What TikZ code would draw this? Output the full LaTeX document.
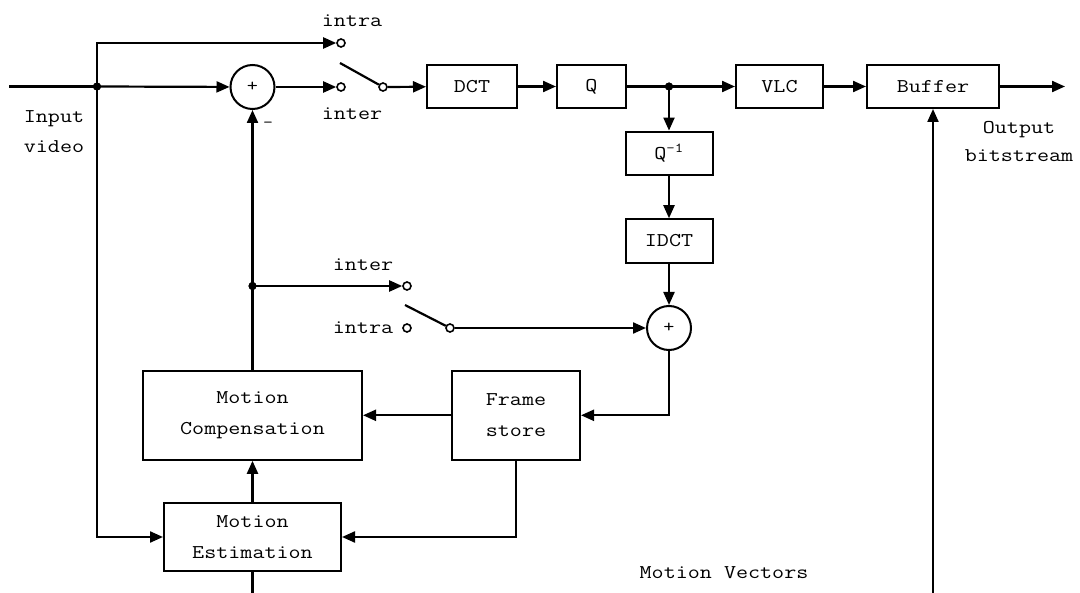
\documentclass[tikz,border=0pt]{standalone}
\usepackage{fontspec}
\setmainfont{Latin Modern Mono}[FakeStretch=1.2]
\usetikzlibrary{arrows.meta}
\tikzset{
  every node/.style={font=\fontsize{19.5bp}{31bp}\selectfont},
  blk/.style={draw, line width=2bp, inner sep=0pt, align=center},
  sumnode/.style={circle, draw, line width=2bp, minimum size=44bp, inner sep=0pt, font=\fontsize{18bp}{18bp}\selectfont},
  term/.style={circle, draw, fill=white, line width=1.6bp, inner sep=0pt, minimum size=8bp},
  dot/.style={circle, fill, inner sep=0pt, minimum size=8bp},
  lbl/.style={anchor=base, inner sep=0pt},
  conn/.style={line width=2.2bp},
  arr/.style={line width=2.2bp, -{Triangle[length=13bp,width=11bp]}}
}
\begin{document}
\begin{tikzpicture}[x=1bp,y=-1bp]
\useasboundingbox (0,0) rectangle (1080,593);
% nodes
\coordinate (in) at (9,86.5);
\node[dot] (j1) at (97,86.5) {};
\coordinate (up) at (97,43);
\node[sumnode] (s1) at (252.5,87) {+};
\node[term] (tIntra) at (341,43) {};
\node[term] (tInter) at (341,87) {};
\coordinate (armA) at (340,63);
\node[term] (tOut) at (383,87) {};
\node[blk, minimum width=90bp, minimum height=43bp] (dct) at (472,86.5) {DCT};
\node[blk, minimum width=69bp, minimum height=43bp] (q) at (591.5,86.5) {Q};
\node[dot] (j2) at (669,86.5) {};
\node[blk, minimum width=87bp, minimum height=43bp] (vlc) at (779.5,86.5) {VLC};
\node[blk, minimum width=132bp, minimum height=43bp] (buf) at (933,86.5) {Buffer};
\coordinate (out) at (1065,86.5);
\node[blk, minimum width=87bp, minimum height=43.5bp] (qi) at (669,153.3) {Q\textsuperscript{-1}};
\node[blk, minimum width=87bp, minimum height=43.5bp] (idct) at (669,241) {IDCT};
\node[sumnode] (s2) at (669,328) {+};
\node[blk, minimum width=128bp, minimum height=89bp] (fs) at (516,415.3) {Frame\\store};
\node[blk, minimum width=219bp, minimum height=89bp] (mc) at (252.5,415.3) {Motion\\Compensation};
\node[blk, minimum width=177bp, minimum height=67.5bp] (me) at (252.5,537) {Motion\\Estimation};
\node[dot] (j3) at (252.5,286) {};
\node[term] (t2inter) at (407,286) {};
\node[term] (t2intra) at (407,328) {};
\coordinate (arm2A) at (405,305);
\node[term] (t2out) at (450,328) {};
\coordinate (meBot) at (252.5,593);
\coordinate (mvB) at (933,593);
% labels
\node[lbl] (lIntra) at (352,27) {intra};
\node[lbl] (lInter) at (352,120) {inter};
\node[lbl, font=\fontsize{16bp}{16bp}\selectfont] (lMinus) at (268,128) {-};
\node[lbl] (lIn1) at (54,123) {Input};
\node[lbl] (lIn2) at (54,153) {video};
\node[lbl] (lOut1) at (1019,134) {Output};
\node[lbl] (lOut2) at (1019,162) {bitstream};
\node[lbl] (lInter2) at (363,271) {inter};
\node[lbl] (lIntra2) at (363,333) {intra};
\node[lbl] (lMV) at (724,578) {Motion Vectors};
% connectors
\draw[conn] (in) -- (j1.center);
\draw[arr] (j1.center) -- (s1);
\draw[arr] (j1.center) -- (up) -- (tIntra);
\draw[arr] (j1.center) |- (me.west);
\draw[arr] (s1) -- (tInter);
\draw[conn] (armA) -- (tOut);
\draw[arr] (tOut) -- (dct);
\draw[arr] (dct) -- (q);
\draw[conn] (q) -- (j2.center);
\draw[arr] (j2.center) -- (vlc);
\draw[arr] (vlc) -- (buf);
\draw[arr] (buf) -- (out);
\draw[arr] (j2.center) -- (qi);
\draw[arr] (qi) -- (idct);
\draw[arr] (idct) -- (s2);
\draw[arr] (s2) |- (fs.east);
\draw[arr] (fs) -- (mc);
\draw[arr] (fs.south) |- (me.east);
\draw[arr] (me) -- (mc);
\draw[conn] (me.south) -- (meBot);
\draw[arr] (mc.north) -- (s1.south);
\draw[arr] (j3.center) -- (t2inter);
\draw[conn] (arm2A) -- (t2out);
\draw[arr] (t2out) -- (s2);
\draw[arr] (mvB) -- (buf.south);
% redraw dots on top
\node[dot] at (j1) {};
\node[dot] at (j2) {};
\node[dot] at (j3) {};
\end{tikzpicture}
\end{document}
